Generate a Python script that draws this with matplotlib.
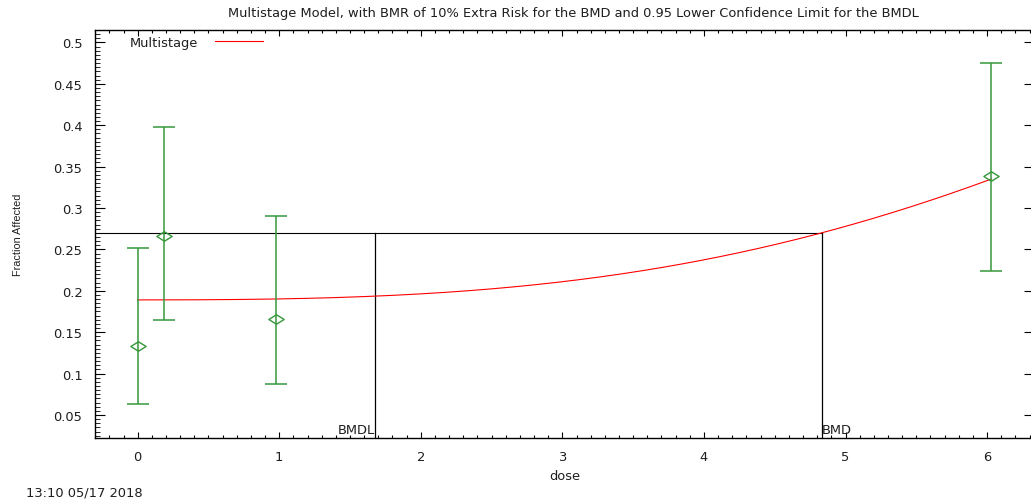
import numpy as np
import matplotlib
matplotlib.use("Agg")
import matplotlib.pyplot as plt
from matplotlib.path import Path
from matplotlib.ticker import MultipleLocator

# Observed dose groups: fraction affected with 95% confidence limits
dose = [0.0, 0.188, 0.979, 6.03]
frac_affected = [0.1334, 0.2667, 0.1664, 0.339]
ci_lower = [0.063, 0.1645, 0.0872, 0.224]
ci_upper = [0.2514, 0.398, 0.290, 0.4752]

# Fitted multistage model parameters (background, beta1..beta3)
background = 0.189
betas = [0.0, 0.00067, 0.000794]

# Benchmark results
bmr = 0.10
bmd = 4.835
bmdl = 1.676

title = ("Multistage Model, with BMR of 10% Extra Risk for the BMD "
         "and 0.95 Lower Confidence Limit for the BMDL")
x_label = "dose"
y_label = "Fraction Affected"
legend_label = "Multistage"
timestamp = "13:10 05/17 2018"

W, H = 1031, 502
fig = plt.figure(figsize=(W / 100, H / 100), dpi=100)
fig.patch.set_facecolor("white")

left, right, bottom, top = 95, 1034, 439, 31
ax = fig.add_axes([left / W, (H - bottom) / H, (right - left) / W, (bottom - top) / H])

FONT = "DejaVu Sans"
FS = 9.4
TXT = "#1e1e1e"
green = "#35983a"


def multistage(d):
    q = sum(b * d ** (i + 1) for i, b in enumerate(betas))
    return background + (1 - background) * (1 - np.exp(-q))


# model curve
d = np.linspace(0, max(dose), 400)
ax.plot(d, multistage(d), color="#ff0000", lw=0.8, zorder=3)

# data with error bars
yerr = [np.array(frac_affected) - np.array(ci_lower),
        np.array(ci_upper) - np.array(frac_affected)]
ax.errorbar(dose, frac_affected, yerr=yerr, fmt="none", ecolor=green,
            elinewidth=1.1, capsize=8, capthick=1.1, zorder=4)
diamond = Path([(-1, 0), (0, 0.62), (1, 0), (0, -0.62), (-1, 0)],
               [Path.MOVETO, Path.LINETO, Path.LINETO, Path.LINETO, Path.CLOSEPOLY])
ax.plot(dose, frac_affected, linestyle="none", marker=diamond, markersize=11,
        markerfacecolor="none", markeredgecolor=green, markeredgewidth=1.0, zorder=5)

# BMD / BMDL reference lines
bmr_level = background + (1 - background) * bmr
xmin, xmax = -0.3015, 6.3315
ymin, ymax = 0.0222, 0.515
ax.plot([xmin, bmd], [bmr_level, bmr_level], color="black", lw=0.8, zorder=2)
ax.plot([bmdl, bmdl], [ymin, bmr_level], color="black", lw=0.9, zorder=2)
ax.plot([bmd, bmd], [ymin, bmr_level], color="black", lw=0.9, zorder=2)
ax.text(bmdl, ymin + 0.002, "BMDL", ha="right", va="bottom",
        fontsize=FS, family=FONT, color=TXT)
ax.text(bmd, ymin + 0.002, "BMD", ha="left", va="bottom",
        fontsize=FS, family=FONT, color=TXT)

ax.set_xlim(xmin, xmax)
ax.set_ylim(ymin, ymax)

ax.xaxis.set_major_locator(MultipleLocator(1))
ax.xaxis.set_minor_locator(MultipleLocator(0.1))
ax.yaxis.set_major_locator(MultipleLocator(0.05))
ax.yaxis.set_minor_locator(MultipleLocator(0.005))
yt = np.round(np.arange(0.05, 0.501, 0.05), 2)
ax.set_xticks(np.arange(0, 7, 1))
ax.set_yticks(yt)
ax.set_yticklabels([f"{v:g}" for v in yt])

ax.tick_params(axis="x", which="major", direction="in", length=4, width=0.8,
               top=True, bottom=True, pad=9, labelsize=FS)
ax.tick_params(axis="x", which="minor", direction="in", length=2, width=0.8,
               top=True, bottom=True)
ax.tick_params(axis="y", which="major", direction="in", length=7, width=0.8,
               left=True, right=True, pad=9, labelsize=FS)
ax.tick_params(axis="y", which="minor", direction="in", length=3.5, width=0.6,
               left=True, right=False)
for lab in ax.get_xticklabels() + ax.get_yticklabels():
    lab.set_family(FONT)
    lab.set_color(TXT)

for s in ax.spines.values():
    s.set_linewidth(1.0)

# legend: label followed by its key line
fig.text(130 / W, 1 - 44 / H, legend_label, ha="left", va="center",
         fontsize=FS, family=FONT, color=TXT)
fig.add_artist(plt.Line2D([215 / W, 263 / W], [1 - 41.5 / H, 1 - 41.5 / H],
                          color="#ff0000", lw=0.8, transform=fig.transFigure))

fig.text(573 / W, 1 - 13 / H, title, ha="center", va="center",
         fontsize=FS, family=FONT, color=TXT)
fig.text(565 / W, 1 - 477 / H, x_label, ha="center", va="center",
         fontsize=FS, family=FONT, color=TXT)
fig.text(18 / W, 1 - 235 / H, y_label, ha="center", va="center", rotation=90,
         fontsize=7.8, family="Liberation Sans", color=TXT)
fig.text(26 / W, 1 - 493 / H, timestamp, ha="left", va="center",
         fontsize=FS, family=FONT, color=TXT)

fig.savefig("out.png", dpi=100)
